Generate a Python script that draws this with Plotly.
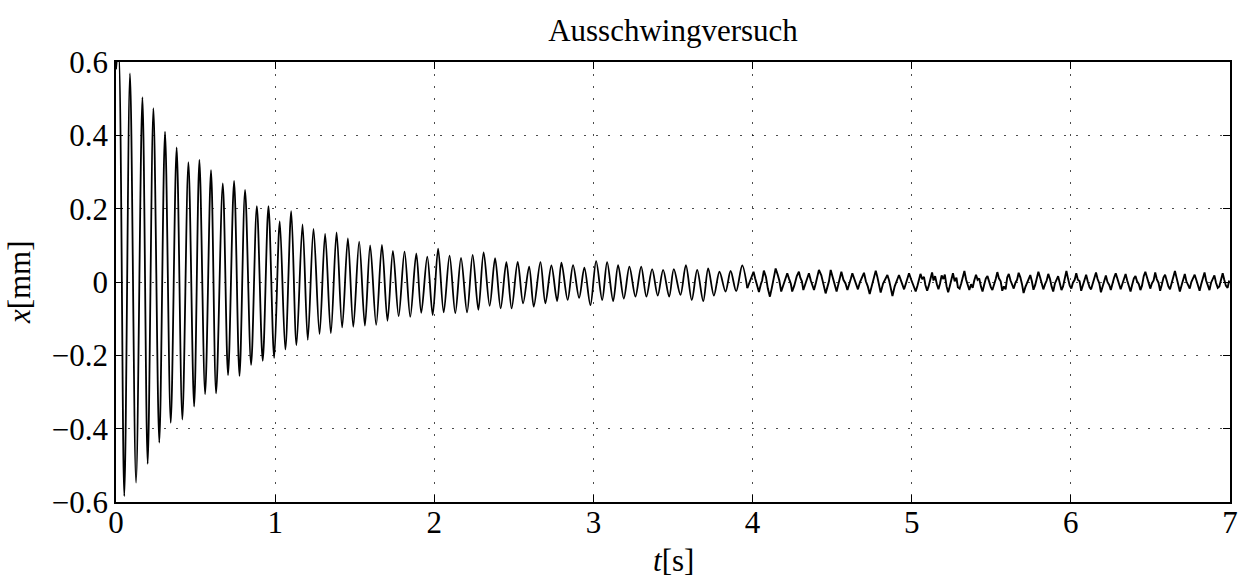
import plotly.graph_objects as go

# Extrema, 0 .. 1.2 s
t_a = [0.000, 0.015, 0.052, 0.088, 0.126, 0.166, 0.199, 0.235, 0.272, 0.308, 0.344, 0.381,
       0.417, 0.455, 0.491, 0.524, 0.560, 0.597, 0.629, 0.671, 0.704, 0.742, 0.776, 0.811,
       0.849, 0.885, 0.922, 0.958, 0.994, 1.029, 1.064, 1.101, 1.134, 1.172]
x_a = [0.58, 0.64, -0.584, 0.569, -0.547, 0.504, -0.496, 0.474, -0.438, 0.410, -0.384, 0.367,
       -0.375, 0.327, -0.340, 0.333, -0.306, 0.305, -0.304, 0.269, -0.254, 0.276, -0.256, 0.251,
       -0.226, 0.207, -0.215, 0.207, -0.207, 0.165, -0.184, 0.193, -0.172, 0.157]

# 1.2 .. 2.5 s
t_b = [1.205, 1.241, 1.279, 1.314, 1.350, 1.386, 1.421, 1.457, 1.491, 1.528, 1.564, 1.597,
       1.635, 1.671, 1.706, 1.740, 1.776, 1.813, 1.849, 1.887, 1.918, 1.956, 1.990, 2.024,
       2.059, 2.096, 2.132, 2.168, 2.206, 2.241, 2.277, 2.310, 2.348, 2.382, 2.417, 2.453, 2.486]
x_b = [-0.158, 0.145, -0.142, 0.131, -0.140, 0.135, -0.124, 0.119, -0.122, 0.110, -0.119, 0.100,
       -0.117, 0.101, -0.106, 0.085, -0.093, 0.083, -0.095, 0.078, -0.084, 0.069, -0.090, 0.091,
       -0.083, 0.072, -0.085, 0.066, -0.083, 0.074, -0.076, 0.081, -0.065, 0.065, -0.072, 0.054, -0.072]

# 2.5 .. 4.0 s
t_c = [2.524, 2.558, 2.596, 2.625, 2.667, 2.698, 2.736, 2.772, 2.799, 2.838, 2.872, 2.910,
       2.943, 2.981, 3.017, 3.055, 3.086, 3.124, 3.155, 3.191, 3.226, 3.264, 3.300, 3.333,
       3.369, 3.404, 3.438, 3.476, 3.505, 3.547, 3.581, 3.618, 3.652, 3.690, 3.721, 3.757,
       3.792, 3.830, 3.862, 3.897, 3.935, 3.967]
x_c = [0.055, -0.058, 0.042, -0.067, 0.054, -0.058, 0.045, -0.052, 0.053, -0.049, 0.046, -0.043,
       0.039, -0.063, 0.057, -0.049, 0.054, -0.052, 0.046, -0.045, 0.042, -0.040, 0.042, -0.040,
       0.035, -0.037, 0.033, -0.040, 0.035, -0.035, 0.046, -0.049, 0.033, -0.052, 0.037, -0.037,
       0.028, -0.026, 0.030, -0.025, 0.045, -0.017]

# 4.0 .. 5.03 s (oscillation with noise riding on it)
t_d = [4.006, 4.016, 4.028, 4.040, 4.052, 4.060, 4.071, 4.084, 4.096, 4.109, 4.121, 4.133,
       4.145, 4.158, 4.168, 4.180, 4.194, 4.206, 4.218, 4.230, 4.240, 4.249, 4.262, 4.278,
       4.291, 4.300, 4.310, 4.319, 4.332, 4.344, 4.354, 4.366, 4.376, 4.386, 4.398, 4.408,
       4.417, 4.432, 4.446, 4.459, 4.470, 4.480, 4.491, 4.503, 4.516, 4.528, 4.538, 4.548,
       4.558, 4.571, 4.584, 4.596, 4.606, 4.617, 4.627, 4.639, 4.651, 4.662, 4.675, 4.688,
       4.700, 4.712, 4.724, 4.736, 4.748, 4.762, 4.774, 4.784, 4.795, 4.805, 4.820, 4.834,
       4.847, 4.858, 4.868, 4.879, 4.893, 4.907, 4.920, 4.931, 4.941, 4.952, 4.962, 4.973,
       4.983, 4.997, 5.011, 5.025]
x_d = [0.028, 0.010, -0.012, -0.027, -0.006, 0.004, 0.031, 0.014, -0.018, -0.040, -0.016, 0.008,
       0.037, 0.020, 0.004, -0.026, -0.008, 0.006, 0.024, 0.008, -0.004, -0.026, -0.010, 0.016,
       0.028, 0.012, 0.002, -0.022, -0.006, 0.010, 0.024, 0.004, -0.008, -0.022, -0.002, 0.014,
       0.033, 0.018, -0.006, -0.031, -0.014, 0.002, 0.033, 0.012, -0.010, -0.026, -0.008, 0.010,
       0.028, 0.006, -0.004, -0.022, -0.010, 0.008, 0.024, 0.010, -0.008, -0.020, 0.000, 0.016,
       0.025, 0.002, -0.012, -0.033, -0.014, 0.012, 0.031, 0.014, -0.006, -0.029, -0.004, 0.008,
       0.019, 0.004, -0.016, -0.038, -0.012, 0.004, 0.019, 0.006, -0.004, -0.020, -0.006, 0.010,
       0.024, 0.006, -0.012, -0.026]

# 5.03 .. 7.0 s (noise floor)
t_e = [5.036, 5.046, 5.055, 5.066, 5.077, 5.086, 5.097, 5.106, 5.116, 5.128, 5.137, 5.147,
       5.158, 5.168, 5.178, 5.188, 5.199, 5.208, 5.219, 5.229, 5.240, 5.250, 5.259, 5.270,
       5.281, 5.290, 5.301, 5.311, 5.322, 5.331, 5.342, 5.352, 5.362, 5.373, 5.383, 5.393,
       5.404, 5.414, 5.424, 5.435, 5.445, 5.455, 5.466, 5.476, 5.486, 5.497, 5.507, 5.517,
       5.528, 5.538, 5.548, 5.559, 5.569, 5.579, 5.590, 5.600, 5.610, 5.621, 5.631, 5.641,
       5.652, 5.662, 5.672, 5.683, 5.693, 5.703, 5.714, 5.724, 5.734, 5.745, 5.755, 5.765,
       5.776, 5.786, 5.796, 5.807, 5.817, 5.827, 5.838, 5.848, 5.858, 5.869, 5.879, 5.889,
       5.900, 5.910, 5.920, 5.931, 5.941, 5.951, 5.962, 5.972, 5.982, 5.993, 6.003, 6.013,
       6.024, 6.034, 6.044, 6.055, 6.065, 6.075, 6.086, 6.096, 6.106, 6.117, 6.127, 6.137,
       6.148, 6.158, 6.168, 6.179, 6.189, 6.199, 6.210, 6.220, 6.230, 6.241, 6.251, 6.261,
       6.272, 6.282, 6.292, 6.303, 6.313, 6.323, 6.334, 6.344, 6.354, 6.365, 6.375, 6.385,
       6.396, 6.406, 6.416, 6.427, 6.437, 6.447, 6.458, 6.468, 6.478, 6.489, 6.499, 6.509,
       6.520, 6.530, 6.540, 6.551, 6.561, 6.571, 6.582, 6.592, 6.602, 6.613, 6.623, 6.633,
       6.644, 6.654, 6.664, 6.675, 6.685, 6.695, 6.706, 6.716, 6.726, 6.737, 6.747, 6.757,
       6.768, 6.778, 6.788, 6.799, 6.809, 6.819, 6.830, 6.840, 6.850, 6.861, 6.871, 6.881,
       6.892, 6.902, 6.912, 6.923, 6.933, 6.943, 6.954, 6.964, 6.974, 6.985, 6.995]
x_e = [-0.010, 0.006, 0.022, 0.008, 0.014, -0.008, -0.024, -0.012, 0.010, 0.026, 0.004, 0.016,
       -0.006, -0.020, -0.004, 0.018, 0.008, 0.020, -0.012, -0.028, -0.010, 0.006, 0.024, 0.002,
       0.012, -0.014, -0.018, -0.004, 0.012, 0.030, 0.006, -0.008, -0.022, -0.006, -0.016, 0.004,
       0.020, 0.006, 0.010, -0.012, -0.026, -0.008, 0.010, 0.016, -0.002, -0.014, -0.022, -0.010,
       0.008, 0.027, 0.010, 0.002, -0.024, -0.012, -0.020, 0.012, 0.022, 0.004, -0.010, -0.018,
       -0.002, 0.006, 0.025, 0.012, -0.006, -0.030, -0.014, -0.004, 0.010, 0.019, 0.002, -0.021,
       -0.008, 0.014, 0.028, 0.012, -0.008, -0.020, -0.006, 0.004, 0.022, 0.008, -0.012, -0.026,
       -0.004, 0.008, 0.016, -0.004, -0.022, -0.012, 0.014, 0.030, 0.010, -0.010, -0.018, -0.002,
       0.006, 0.024, 0.006, 0.002, -0.024, -0.010, 0.012, 0.020, 0.002, -0.014, -0.020, -0.006,
       0.010, 0.026, 0.008, -0.004, -0.028, -0.014, 0.006, 0.018, 0.000, -0.008, -0.022, -0.004,
       0.012, 0.024, 0.010, 0.000, -0.020, -0.006, 0.008, 0.022, 0.004, -0.012, -0.026, -0.008,
       0.010, 0.016, 0.002, -0.006, -0.022, -0.010, 0.016, 0.028, 0.012, -0.008, -0.018, -0.004,
       0.004, 0.026, 0.008, -0.002, -0.024, -0.008, 0.012, 0.020, 0.004, -0.012, -0.020, -0.004,
       0.010, 0.030, 0.012, -0.006, -0.026, -0.010, 0.008, 0.022, 0.002, -0.010, -0.018, 0.000,
       0.012, 0.020, 0.006, -0.014, -0.024, -0.006, 0.014, 0.026, 0.004, -0.008, -0.022, -0.002,
       0.008, 0.018, -0.002, -0.016, -0.012, 0.010, 0.024, 0.006, -0.010, -0.016, 0.004]

x_ticks = [0, 1, 2, 3, 4, 5, 6, 7]
x_ticktext = ["0", "1", "2", "3", "4", "5", "6", "7"]
y_ticks = [-0.6, -0.4, -0.2, 0, 0.2, 0.4, 0.6]
y_ticktext = ["\u22120.6", "\u22120.4", "\u22120.2", "0", "0.2", "0.4", "0.6"]

FONT = "Liberation Serif"

fig = go.Figure()
# smooth, large-amplitude part
fig.add_trace(go.Scatter(x=t_a + t_b + t_c, y=x_a + x_b + x_c, mode="lines",
                         line=dict(color="black", width=1.8, shape="spline", smoothing=0.9),
                         showlegend=False, hoverinfo="skip"))
# noisy tail (joined to the last point of the first part)
fig.add_trace(go.Scatter(x=t_c[-1:] + t_d + t_e, y=x_c[-1:] + x_d + x_e, mode="lines",
                         line=dict(color="black", width=1.9),
                         showlegend=False, hoverinfo="skip"))

axis_common = dict(showline=True, linecolor="black", linewidth=1.5, mirror="allticks",
                   ticks="inside", ticklen=7, tickcolor="black", tickwidth=1.2,
                   showgrid=True, gridcolor="rgba(0,0,0,0.7)", gridwidth=1.2,
                   griddash="1.5px,10.5px", zeroline=False, automargin=False,
                   tickfont=dict(family=FONT, size=31, color="black"))

fig.update_xaxes(range=[0, 7], tickvals=x_ticks, ticktext=x_ticktext,
                 ticklabelstandoff=-8, **axis_common)
fig.update_yaxes(range=[-0.6, 0.6], tickvals=y_ticks, ticktext=y_ticktext, **axis_common)

fig.update_layout(
    width=1242, height=578,
    margin=dict(l=116, r=12, t=62, b=76, autoexpand=False),
    paper_bgcolor="white", plot_bgcolor="white",
    title=dict(text="Ausschwingversuch", x=0.5, xref="paper", xanchor="center",
               y=1 - 30 / 578, yref="container", yanchor="middle",
               font=dict(family=FONT, size=31, color="black")),
    annotations=[
        dict(text="<i>t</i>[s]", xref="paper", yref="paper", x=0.5, y=-0.132,
             xanchor="center", yanchor="middle", showarrow=False,
             font=dict(family=FONT, size=31, color="black")),
        dict(text="<i>x</i>[mm]", xref="paper", yref="paper", x=-0.087, y=0.5,
             xanchor="center", yanchor="middle", textangle=-90, showarrow=False,
             font=dict(family=FONT, size=31, color="black")),
    ],
)

fig.write_html("out.html")
